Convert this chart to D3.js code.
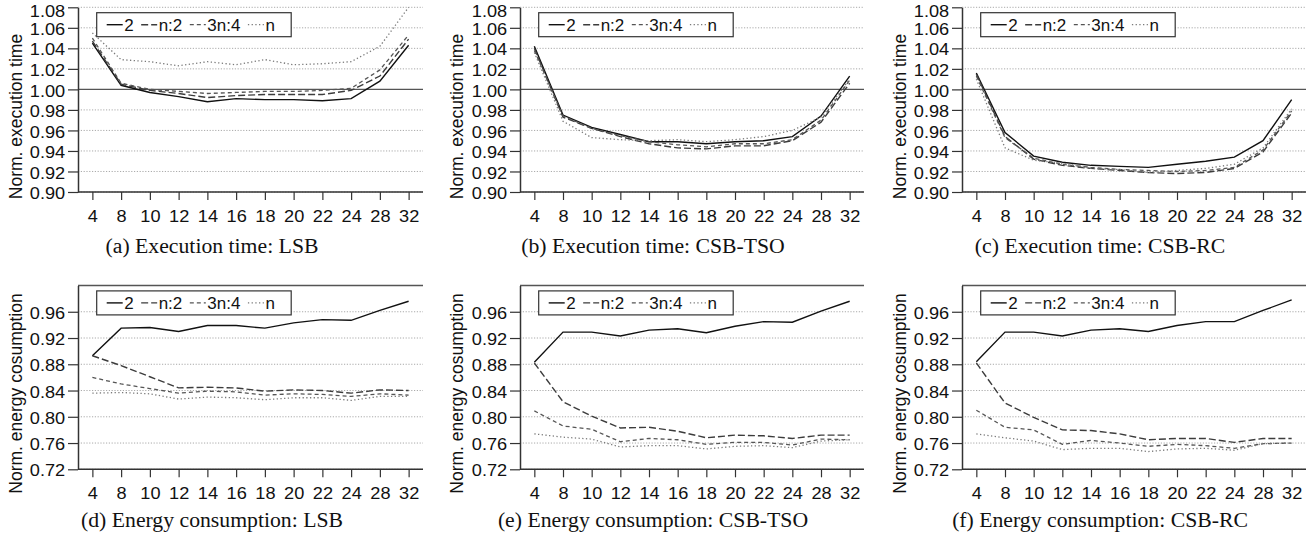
<!DOCTYPE html>
<html lang="en">
<head>
  <meta charset="UTF-8" />
  <title>Normalized execution time and energy</title>
  <script src="https://d3js.org/d3.v7.min.js"></script>
  <style>
    body { margin: 0; padding: 0; background: white; }
    svg { display: block; }
    .tick text { font-family: "Liberation Sans", Arial, sans-serif; font-size: 17px; fill: #111; }
    .ytitle { font-family: "Liberation Sans", Arial, sans-serif; font-size: 17.5px; fill: #111; }
    .caption { font-family: "Liberation Serif", "Times New Roman", serif; font-size: 20.5px; fill: #111; }
    .legend text { font-family: "Liberation Sans", Arial, sans-serif; font-size: 17px; fill: #111; }
  </style>
</head>
<body>
  <svg id="chart" width="1309" height="539"></svg>
  <script>
    // x categories (number of cores) and series
    const cats = ["4", "8", "10", "12", "14", "16", "18", "20", "22", "24", "28", "32"];
    const seriesNames = ["2", "n:2", "3n:4", "n"];
    const timeTicks = [0.90, 0.92, 0.94, 0.96, 0.98, 1.00, 1.02, 1.04, 1.06, 1.08];
    const energyTicks = [0.72, 0.76, 0.80, 0.84, 0.88, 0.92, 0.96];

    // rows are in seriesNames order
    const timeLSB = [
      [1.045, 1.004, 0.997, 0.993, 0.988, 0.991, 0.990, 0.990, 0.989, 0.991, 1.008, 1.043],
      [1.047, 1.005, 0.999, 0.996, 0.992, 0.994, 0.995, 0.995, 0.995, 0.999, 1.013, 1.049],
      [1.050, 1.006, 1.000, 0.998, 0.996, 0.997, 0.998, 0.998, 0.999, 1.001, 1.019, 1.053],
      [1.055, 1.029, 1.027, 1.023, 1.027, 1.024, 1.029, 1.024, 1.025, 1.027, 1.042, 1.080]
    ];
    const timeTSO = [
      [1.042, 0.975, 0.963, 0.956, 0.949, 0.949, 0.947, 0.949, 0.950, 0.954, 0.974, 1.013],
      [1.040, 0.973, 0.962, 0.954, 0.947, 0.943, 0.942, 0.945, 0.945, 0.950, 0.968, 1.006],
      [1.038, 0.974, 0.962, 0.955, 0.949, 0.946, 0.944, 0.947, 0.947, 0.951, 0.970, 1.009],
      [1.036, 0.969, 0.953, 0.951, 0.950, 0.951, 0.949, 0.951, 0.954, 0.960, 0.973, 1.010]
    ];
    const timeRC = [
      [1.016, 0.958, 0.935, 0.929, 0.926, 0.925, 0.924, 0.927, 0.930, 0.934, 0.950, 0.990],
      [1.015, 0.954, 0.932, 0.926, 0.923, 0.921, 0.919, 0.918, 0.919, 0.923, 0.939, 0.977],
      [1.013, 0.953, 0.933, 0.927, 0.924, 0.922, 0.921, 0.920, 0.921, 0.924, 0.941, 0.979],
      [1.010, 0.943, 0.931, 0.928, 0.923, 0.922, 0.919, 0.921, 0.923, 0.927, 0.943, 0.981]
    ];
    const energyLSB = [
      [0.893, 0.935, 0.936, 0.930, 0.939, 0.939, 0.935, 0.943, 0.948, 0.947, 0.962, 0.976],
      [0.893, 0.878, 0.861, 0.844, 0.845, 0.844, 0.839, 0.841, 0.840, 0.836, 0.841, 0.840],
      [0.860, 0.850, 0.843, 0.836, 0.839, 0.838, 0.833, 0.835, 0.834, 0.831, 0.835, 0.833],
      [0.836, 0.837, 0.835, 0.827, 0.830, 0.829, 0.826, 0.829, 0.829, 0.825, 0.831, 0.831]
    ];
    const energyTSO = [
      [0.883, 0.929, 0.929, 0.923, 0.932, 0.934, 0.928, 0.938, 0.945, 0.944, 0.961, 0.976],
      [0.882, 0.823, 0.801, 0.783, 0.784, 0.778, 0.768, 0.772, 0.771, 0.767, 0.772, 0.772],
      [0.809, 0.786, 0.781, 0.762, 0.767, 0.765, 0.758, 0.761, 0.761, 0.757, 0.766, 0.765],
      [0.774, 0.769, 0.766, 0.754, 0.756, 0.756, 0.751, 0.755, 0.756, 0.753, 0.763, 0.765]
    ];
    const energyRC = [
      [0.884, 0.929, 0.929, 0.923, 0.932, 0.934, 0.930, 0.939, 0.945, 0.945, 0.962, 0.978],
      [0.882, 0.821, 0.799, 0.780, 0.779, 0.774, 0.765, 0.767, 0.767, 0.761, 0.767, 0.767],
      [0.810, 0.784, 0.780, 0.758, 0.764, 0.760, 0.755, 0.758, 0.756, 0.752, 0.759, 0.760],
      [0.774, 0.768, 0.763, 0.750, 0.752, 0.752, 0.747, 0.751, 0.752, 0.749, 0.759, 0.760]
    ];

    const colors = ["#111", "#3c3c3c", "#555", "#7a7a7a"];
    const widths = [1.4, 1.4, 1.3, 1.3];
    const dashes = [null, "7,3", "4,3", "1.3,2.4"];

    const colX = [78, 520, 962];
    const colR = [423, 864, 1306];
    const titleX = [15.5, 457, 899.5];
    const captionX = [212, 653, 1100];

    const panels = [
      {data: timeLSB, col: 0, row: 0, cap: "(a) Execution time: LSB"},
      {data: timeTSO, col: 1, row: 0, cap: "(b) Execution time: CSB-TSO"},
      {data: timeRC, col: 2, row: 0, cap: "(c) Execution time: CSB-RC"},
      {data: energyLSB, col: 0, row: 1, cap: "(d) Energy consumption: LSB"},
      {data: energyTSO, col: 1, row: 1, cap: "(e) Energy consumption: CSB-TSO"},
      {data: energyRC, col: 2, row: 1, cap: "(f) Energy consumption: CSB-RC"}
    ];
    const rows = [
      {top: 7.3, bottom: 192, domain: [0.90, 1.08], ticks: timeTicks, title: "Norm. execution time", titleY: 116.5, capY: 252.5},
      {top: 285.5, bottom: 469.3, domain: [0.72, 1.00], ticks: energyTicks, title: "Norm. energy cosumption", titleY: 393.5, capY: 527}
    ];

    const svg = d3.select("#chart");

    panels.forEach(p => {
      const r = rows[p.row];
      const x0 = colX[p.col], x1 = colR[p.col];
      const x = d3.scalePoint().domain(cats).range([x0, x1]).padding(0.5);
      const y = d3.scaleLinear().domain(r.domain).range([r.bottom, r.top]);
      const g = svg.append("g");

      // grid
      g.selectAll(".grid").data(r.ticks.filter(t => Math.abs(t - 1) > 1e-6)).enter().append("line")
        .attr("x1", x0).attr("x2", x1)
        .attr("y1", d => y(d)).attr("y2", d => y(d))
        .attr("stroke", "#aaa").attr("stroke-width", 1)
        .attr("stroke-dasharray", "1.2,1.6");

      // reference line at 1.00
      g.append("line")
        .attr("x1", x0).attr("x2", x1)
        .attr("y1", y(1)).attr("y2", y(1))
        .attr("stroke", "#555").attr("stroke-width", 1.3);

      // axes
      const yAxis = g.append("g").attr("transform", `translate(${x0},0)`)
        .call(d3.axisLeft(y).tickValues(r.ticks).tickSize(10).tickSizeOuter(0).tickPadding(2).tickFormat(d3.format(".2f")));
      const xAxis = g.append("g").attr("transform", `translate(0,${r.bottom})`)
        .call(d3.axisBottom(x).tickSize(8).tickSizeOuter(0).tickPadding(10));
      [yAxis, xAxis].forEach(a => {
        a.select(".domain").attr("stroke", "#333").attr("stroke-width", 1.5);
        a.selectAll(".tick line").attr("stroke", "#333").attr("stroke-width", 1.2);
        a.attr("font-size", null).attr("font-family", null);
        a.selectAll(".tick text").attr("transform", "scale(1.07,1)");
      });
      xAxis.select(".domain").attr("d", `M${x0},0H${x1}`);
      // labels sit a little low in the original, the top one more so
      const topTick = d3.max(r.ticks);
      yAxis.selectAll(".tick text").attr("y", d => (d === topTick && p.row === 0) ? 3.5 : 1.2);

      // y title
      g.append("text").attr("class", "ytitle")
        .attr("transform", `translate(${titleX[p.col]},${r.titleY}) rotate(-90)`)
        .attr("text-anchor", "middle").attr("dy", "0.35em")
        .text(r.title);

      // caption
      g.append("text").attr("class", "caption")
        .attr("transform", `translate(${captionX[p.col]},${r.capY}) scale(1.06,1)`)
        .attr("text-anchor", "middle")
        .text(p.cap);

      // series lines
      const line = d3.line().x((d, i) => x(cats[i])).y(d => y(d));
      p.data.forEach((vals, s) => {
        g.append("path")
          .attr("d", line(vals))
          .attr("fill", "none")
          .attr("stroke", colors[s])
          .attr("stroke-width", widths[s])
          .attr("stroke-dasharray", dashes[s]);
      });

      // legend
      const lx = x0 + 18.7, ly = r.top + 5.4;
      const leg = g.append("g").attr("class", "legend").attr("transform", `translate(${lx},${ly})`);
      leg.append("rect").attr("width", 194.5).attr("height", 24)
        .attr("fill", "white").attr("stroke", "#333").attr("stroke-width", 1.2);
      let cx = 10;
      seriesNames.forEach((name, s) => {
        leg.append("line")
          .attr("x1", cx).attr("x2", cx + 16)
          .attr("y1", 12).attr("y2", 12)
          .attr("stroke", colors[s]).attr("stroke-width", widths[s])
          .attr("stroke-dasharray", dashes[s]);
        const t = leg.append("text").attr("x", cx + 17.5).attr("y", 12).attr("dy", "0.35em").text(name);
        cx += 17.5 + t.node().getComputedTextLength() + 7.5;
      });
    });
  </script>
</body>
</html>
